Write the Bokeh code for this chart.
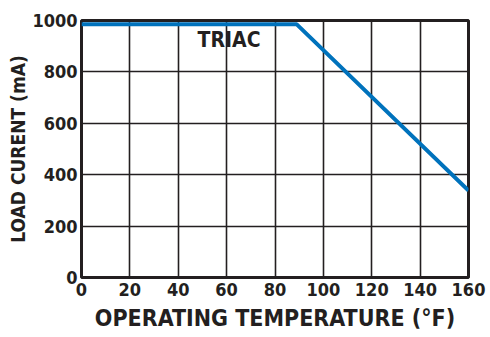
from bokeh.plotting import figure
from bokeh.models import Range1d, FixedTicker, Label
from bokeh.embed import file_html
from bokeh.resources import INLINE

# data
temp_f = [0, 89, 160]
load_ma = [985, 985, 338]
x_ticks = [0, 20, 40, 60, 80, 100, 120, 140, 160]
y_ticks = [0, 200, 400, 600, 800, 1000]
series_label = "TRIAC"
label_x = 48
label_y = 972

FONT = "DejaVu Sans Condensed"

p = figure(width=490, height=337, output_backend="svg", toolbar_location=None,
           x_range=Range1d(0, 160), y_range=Range1d(0, 1000),
           min_border_left=81, min_border_right=22, min_border_top=20, min_border_bottom=60)

p.line(temp_f, load_ma, line_color="#0072bc", line_width=4)

p.add_layout(Label(x=label_x, y=label_y, text=series_label, text_font=FONT,
                   text_font_style="bold", text_font_size="21px", text_color="#231f20",
                   text_baseline="top", text_align="left"))

p.outline_line_color = "#231f20"
p.outline_line_width = 3
p.outline_line_alpha = 1

for ax in (p.xaxis[0], p.yaxis[0]):
    ax.axis_line_color = None
    ax.major_tick_line_color = None
    ax.minor_tick_line_color = None
    ax.major_label_text_font = FONT
    ax.major_label_text_font_style = "bold"
    ax.major_label_text_font_size = "18px"
    ax.major_label_text_color = "#231f20"
    ax.axis_label_text_font = FONT
    ax.axis_label_text_font_style = "bold"
    ax.axis_label_text_color = "#231f20"
    ax.major_tick_in = 0
    ax.major_tick_out = 0

p.xaxis.ticker = FixedTicker(ticks=x_ticks)
p.yaxis.ticker = FixedTicker(ticks=y_ticks)
p.xaxis.axis_label = "OPERATING TEMPERATURE (°F)"
p.yaxis.axis_label = "LOAD CURENT (mA)"
p.xaxis.axis_label_text_font_size = "23px"
p.yaxis.axis_label_text_font_size = "19px"
p.xaxis.major_label_standoff = 5
p.yaxis.major_label_standoff = 4
p.xaxis.axis_label_standoff = 6
p.yaxis.axis_label_standoff = 0

p.xgrid.ticker = FixedTicker(ticks=x_ticks)
p.ygrid.ticker = FixedTicker(ticks=y_ticks)
for g in (p.xgrid[0], p.ygrid[0]):
    g.grid_line_color = "#231f20"
    g.grid_line_width = 1.6
    g.grid_line_alpha = 1

p.background_fill_color = "white"
p.border_fill_color = "white"

open("out.html", "w").write(file_html(p, INLINE))
